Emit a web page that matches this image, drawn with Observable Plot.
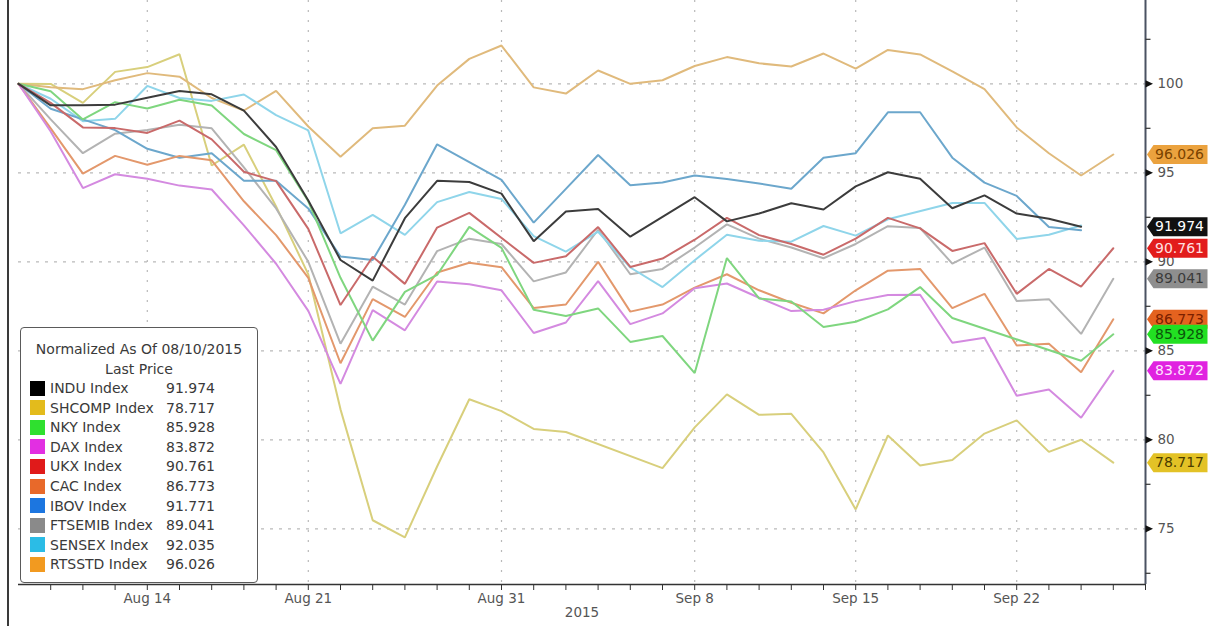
<!DOCTYPE html>
<html>
<head>
<meta charset="utf-8">
<script src="https://cdn.jsdelivr.net/npm/d3@7"></script>
<script src="https://cdn.jsdelivr.net/npm/@observablehq/plot@0.6"></script>
<style>
  body { margin: 0; background: #fff; font-family: "DejaVu Sans", sans-serif; }
  #wrap { position: relative; width: 1211px; height: 626px; overflow: hidden; background: #fff; }
  #frameLine { position: absolute; left: 7px; top: 0; width: 2px; height: 626px; background: #3a3a3a; }
  #legend { position: absolute; left: 20px; top: 327px; width: 236px; height: 254px;
            border: 1.5px solid #5a5a5a; border-radius: 4px; background: #fff; color: #3a3a3a; font-size: 14px; }
  #legend div { position: absolute; white-space: nowrap; line-height: 18px; }
  #legend .sw { width: 15px; height: 15px; }
</style>
</head>
<body>
<div id="wrap">
  <div id="chart"></div>
  <div id="frameLine"></div>
  <div id="legend"></div>
</div>
<script>
// ---- data ----
const days = ["Aug 10","Aug 11","Aug 12","Aug 13","Aug 14",
              "Aug 17","Aug 18","Aug 19","Aug 20","Aug 21",
              "Aug 24","Aug 25","Aug 26","Aug 27","Aug 28",
              "Aug 31","Sep 1","Sep 2","Sep 3","Sep 4",
              "Sep 7","Sep 8","Sep 9","Sep 10","Sep 11",
              "Sep 14","Sep 15","Sep 16","Sep 17","Sep 18",
              "Sep 21","Sep 22","Sep 23","Sep 24","Sep 25"];
const tickDays = ["Aug 14","Aug 21","Aug 31","Sep 8","Sep 15","Sep 22"];
const yearLabel = "2015";
const yTicks = [75, 80, 85, 90, 95, 100];
const yMinorTicks = [72.5, 77.5, 82.5, 87.5, 92.5, 97.5, 102.5];

const seriesNames = ["INDU Index","SHCOMP Index","NKY Index","DAX Index","UKX Index",
                     "CAC Index","IBOV Index","FTSEMIB Index","SENSEX Index","RTSSTD Index"];
const lastPrices = [91.974, 78.717, 85.928, 83.872, 90.761, 86.773, 91.771, 89.041, 92.035, 96.026];

const indu    = [100, 98.79, 98.79, 98.83, 99.22, 99.60, 99.41, 98.49, 96.45, 93.44, 90.10, 88.94, 92.45, 94.55, 94.48, 93.83, 91.16, 92.83, 92.96, 91.41, null, 93.63, 92.27, 92.71, 93.29, 92.94, 94.24, 95.03, 94.66, 93.01, 93.73, 92.71, 92.42, 91.974];
const shcomp  = [100, 99.99, 98.93, 100.67, 100.94, 101.66, 95.41, 96.58, 93.11, 89.29, 81.71, 75.48, 74.52, 78.50, 82.28, 81.61, 80.61, 80.44, null, null, 78.41, 80.70, 82.55, 81.40, 81.46, 79.29, 76.09, 80.24, 78.56, 78.86, 80.35, 81.09, 79.32, 80.00, 78.717];
const nky     = [100, 99.58, 98.00, 98.97, 98.61, 99.10, 98.78, 97.18, 96.27, 93.40, 89.10, 85.57, 88.31, 89.26, 91.96, 90.78, 87.30, 86.96, 87.38, 85.50, 85.83, 83.75, 90.21, 87.94, 87.77, 86.34, 86.63, 87.33, 88.58, 86.84, null, null, null, 84.44, 85.928];
const dax     = [100, 97.32, 94.14, 94.92, 94.66, 94.28, 94.06, 92.05, 89.89, 87.24, 83.14, 87.28, 86.15, 88.89, 88.74, 88.40, 86.00, 86.59, 88.91, 86.50, 87.10, 88.51, 88.78, 87.98, 87.23, 87.31, 87.79, 88.13, 88.15, 85.45, 85.73, 82.47, 82.83, 81.24, 83.872];
const ukx     = [100, 98.93, 97.55, 97.51, 97.24, 97.93, 96.88, 95.06, 94.53, 91.85, 87.57, 90.28, 88.76, 91.92, 92.75, null, 89.94, 90.31, 91.95, 89.71, 90.18, 91.24, 92.47, 91.50, 91.00, 90.40, 91.30, 92.47, 91.88, 90.61, 91.05, 88.20, 89.60, 88.60, 90.761];
const cac     = [100, 97.50, 94.95, 95.95, 95.45, 95.95, 95.70, 93.40, 91.50, 89.10, 84.30, 87.90, 86.90, 89.40, 89.95, 89.70, 87.40, 87.60, 90.00, 87.20, 87.60, 88.55, 89.30, 88.40, 87.70, 87.10, 88.40, 89.50, 89.60, 87.40, 88.20, 85.30, 85.40, 83.80, 86.773];
const ibov    = [100, 98.60, 98.00, 97.40, 96.35, 95.85, 96.10, 94.55, 94.55, 93.00, 90.30, 90.10, 93.20, 96.60, 95.60, 94.60, 92.20, 94.10, 96.00, 94.30, 94.45, 94.85, 94.65, 94.40, 94.10, 95.85, 96.10, 98.40, 98.40, 95.85, 94.45, 93.70, 91.95, 91.771];
const ftsemib = [100, 98.00, 96.10, 97.20, 97.40, 97.70, 97.50, 95.30, 93.00, 90.00, 85.40, 88.60, 87.60, 90.60, 91.30, 91.00, 88.90, 89.40, 91.80, 89.30, 89.60, 90.80, 92.10, 91.30, 90.80, 90.20, 91.00, 92.00, 91.90, 89.90, 90.80, 87.80, 87.90, 85.95, 89.041];
const sensex  = [100, 99.16, 97.90, 98.03, 99.88, 99.20, 99.04, 99.40, 98.24, 97.38, 91.60, 92.64, 91.51, 93.35, 93.92, 93.53, 91.44, 90.57, 91.69, 89.68, 88.58, 90.09, 91.52, 91.18, 91.13, 92.01, 91.47, 92.39, null, 93.30, 93.31, 91.28, 91.52, 92.035];
const rtsstd  = [100, 99.80, 99.70, 100.20, 100.60, 100.40, 99.20, 98.50, 99.60, 97.60, 95.90, 97.50, 97.65, 99.90, 101.40, 102.15, 99.80, 99.45, 100.75, 100.00, 100.20, 101.00, 101.50, 101.15, 100.97, 101.70, 100.85, 101.90, 101.65, 100.70, 99.70, 97.55, 96.10, 94.85, 96.026];

const seriesValues = [indu, shcomp, nky, dax, ukx, cac, ibov, ftsemib, sensex, rtsstd];

// tags shown on the right axis
const tagSeries = ["RTSSTD Index","INDU Index","UKX Index","FTSEMIB Index","CAC Index","NKY Index","DAX Index","SHCOMP Index"];

// ---- styles ----
const legendColors = ["#000000","#e3bb1c","#2fe02f","#e22fe2","#e01a1a","#e8692a","#1c76e0","#8a8a8a","#2bbce6","#f29a20"];
const lineColors   = ["#3c3c3c","#d8cf7c","#7fd67f","#d48ae0","#c96a6a","#e3986c","#6ca7cc","#b3b3b3","#8fd5ea","#e0ba7c"];
const tagFill      = {"RTSSTD Index":"#eba23e","INDU Index":"#111111","UKX Index":"#e21c1c","FTSEMIB Index":"#8e8e8e",
                      "CAC Index":"#e4621f","NKY Index":"#22e022","DAX Index":"#e022e0","SHCOMP Index":"#e3c226"};
const tagText      = {"RTSSTD Index":"#7a4200","INDU Index":"#ffffff","UKX Index":"#ffe0e0","FTSEMIB Index":"#3a3a3a",
                      "CAC Index":"#7a2000","NKY Index":"#0b560b","DAX Index":"#ffe4ff","SHCOMP Index":"#4a3c00"};
const drawOrder = ["SHCOMP Index","RTSSTD Index","FTSEMIB Index","SENSEX Index","IBOV Index","CAC Index","DAX Index","NKY Index","UKX Index","INDU Index"];

// ---- build rows ----
const rows = [];
drawOrder.forEach(name => {
  const k = seriesNames.indexOf(name);
  seriesValues[k].forEach((v, i) => {
    if (v != null) rows.push({day: i, value: v, series: name, color: lineColors[k]});
  });
});

const tags = tagSeries
  .map(name => {
    const k = seriesNames.indexOf(name);
    return {name, value: lastPrices[k], label: lastPrices[k].toFixed(3), fill: tagFill[name], text: tagText[name]};
  })
  .sort((a, b) => b.value - a.value);

const xTickIdx = tickDays.map(d => days.indexOf(d));
const yDomain = [71.87, 104.68];

// custom symbols
const tagSymbol = {draw(ctx) {
  ctx.moveTo(1.5, 0); ctx.lineTo(8, -9.5); ctx.lineTo(62, -9.5); ctx.lineTo(62, 9.5); ctx.lineTo(8, 9.5); ctx.closePath();
}};
const arrowSymbol = {draw(ctx) { ctx.moveTo(0, -3.6); ctx.lineTo(7.5, 0); ctx.lineTo(0, 3.6); ctx.closePath(); }};
const dashSymbol = {draw(ctx) { ctx.moveTo(0, 0); ctx.lineTo(5, 0); }};

const tagMarks = tags.flatMap(t => [
  Plot.dot([t], {y: "value", frameAnchor: "right", symbol: tagSymbol, fill: "fill", stroke: null}),
  Plot.text([t], {y: "value", text: "label", frameAnchor: "right", dx: 34, fill: "text", fontSize: 14, textAnchor: "middle"})
]);

const chart = Plot.plot({
  width: 1211,
  height: 626,
  marginLeft: 18,
  marginRight: 66,
  marginTop: 0,
  marginBottom: 42,
  x: {domain: [0, days.length], axis: null},
  y: {domain: yDomain, axis: null},
  color: {type: "identity"},
  style: {fontFamily: "DejaVu Sans, sans-serif", background: "white", overflow: "visible"},
  marks: [
    Plot.ruleY(yTicks, {stroke: "#b9b9b9", strokeDasharray: "3,6", strokeWidth: 1.2}),
    Plot.ruleX(xTickIdx, {stroke: "#b9b9b9", strokeDasharray: "2,8", strokeWidth: 1.2}),
    Plot.line(rows, {x: "day", y: "value", z: "series", stroke: "color", strokeWidth: 2, strokeLinejoin: "miter"}),
    Plot.ruleY([yDomain[0]], {stroke: "#333", strokeWidth: 1.5}),
    Plot.axisX({
      anchor: "bottom",
      ticks: d3.range(1, days.length + 1),
      tickFormat: i => { const k = xTickIdx.indexOf(i); return k >= 0 ? tickDays[k] : ""; },
      tickSize: 6, tickPadding: 3, fontSize: 13.5, stroke: "#333", fill: "#555", label: null
    }),
    Plot.text([yearLabel], {frameAnchor: "bottom", dy: 32, fontSize: 13.5, fill: "#555"}),
    Plot.ruleX([days.length], {stroke: "#4b5262", strokeWidth: 2}),
    Plot.dot(yMinorTicks, {y: d => d, frameAnchor: "right", symbol: dashSymbol, stroke: "#333", fill: "none", strokeWidth: 1.2}),
    Plot.dot(yTicks, {y: d => d, frameAnchor: "right", symbol: arrowSymbol, fill: "#111", stroke: null}),
    Plot.axisY({anchor: "right", ticks: yTicks, tickSize: 0, tickPadding: 12, fontSize: 13.5, fill: "#555", label: null, tickFormat: d => String(d)}),
    ...tagMarks
  ]
});
document.getElementById("chart").appendChild(chart);

// ---- legend ----
const lg = document.getElementById("legend");
function addDiv(html, style) {
  const d = document.createElement("div");
  d.innerHTML = html;
  Object.assign(d.style, style);
  lg.appendChild(d);
  return d;
}
addDiv("Normalized As Of 08/10/2015", {top: "12px", left: "0", width: "236px", textAlign: "center"});
addDiv("Last Price", {top: "32px", left: "0", width: "236px", textAlign: "center"});
seriesNames.forEach((name, k) => {
  const c = 61 + k * 19.6;
  const sw = addDiv("", {top: (c - 8.5) + "px", left: "9px", background: legendColors[k]});
  sw.className = "sw";
  addDiv(name, {top: (c - 10) + "px", left: "29px"});
  addDiv(lastPrices[k].toFixed(3), {top: (c - 10) + "px", left: "145px"});
});
</script>
</body>
</html>
